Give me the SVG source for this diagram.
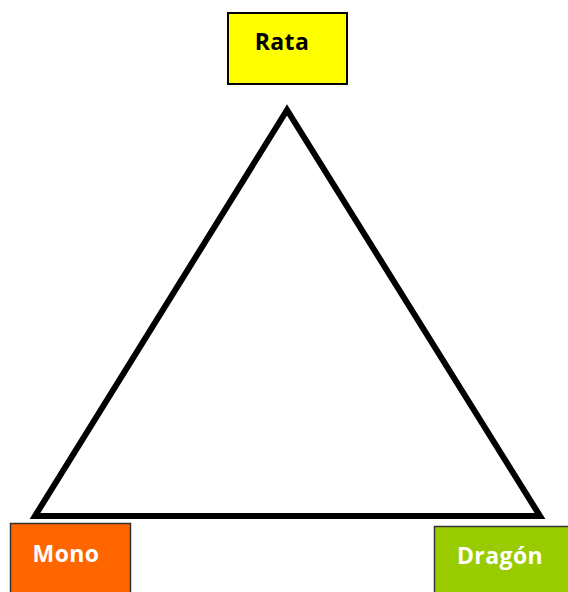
<svg xmlns="http://www.w3.org/2000/svg" width="568" height="592" viewBox="0 0 568 592">
<style>
.lbl{font-family:"Open Sans","Liberation Sans",sans-serif;font-weight:bold;font-size:23px;letter-spacing:0.4px;text-anchor:middle}
</style>
<rect width="568" height="592" fill="#fff"/>
<g id="connectors">
<path d="M287,110 L35,516 L540,516 Z" fill="none" stroke="#000" stroke-width="6" stroke-linejoin="miter" stroke-miterlimit="10"/>
</g>
<g id="rata">
<rect x="228" y="13" width="119" height="71" fill="#FFFF00" stroke="#000" stroke-width="2"/>
<text class="lbl" x="282" y="50" fill="#000">Rata</text>
</g>
<g id="mono">
<rect x="10.5" y="523.5" width="120" height="80" fill="#FF6600" stroke="#333" stroke-width="1.5"/>
<text class="lbl" x="66" y="562" fill="#fff">Mono</text>
</g>
<g id="dragon">
<rect x="434.5" y="526.5" width="140" height="80" fill="#99CC00" stroke="#333" stroke-width="1.5"/>
<text class="lbl" x="500" y="564" fill="#fff">Dragón</text>
</g>
</svg>
